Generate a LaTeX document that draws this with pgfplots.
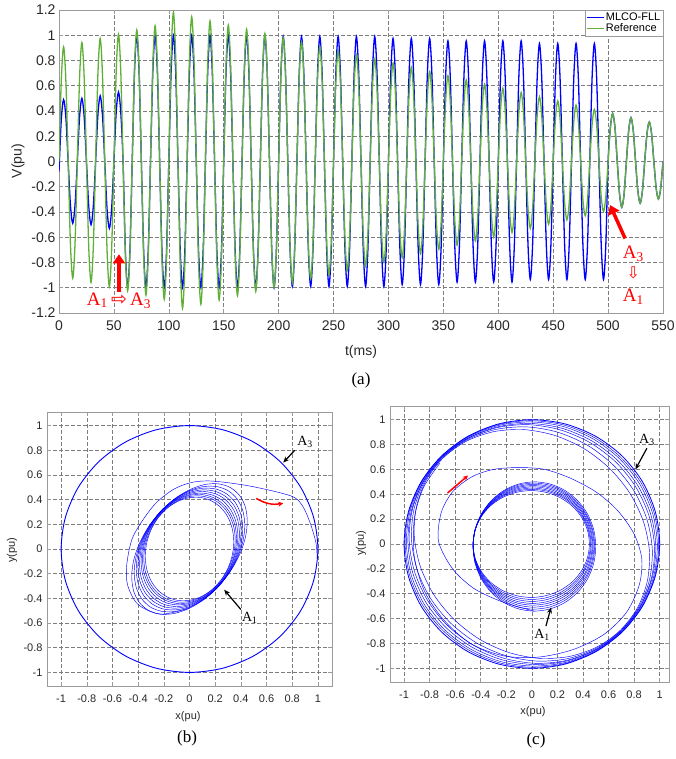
\documentclass[border=0pt]{standalone}
\usepackage{pgfplots}
\pgfplotsset{compat=1.18}
\usepackage{fontspec}
\setmainfont{Liberation Sans}
\newfontfamily\rmlabel{Liberation Serif}
\newfontfamily\symfont{DejaVu Sans}
\usetikzlibrary{arrows.meta}

\definecolor{trackblue}{RGB}{0,0,255}
\definecolor{refgreen}{RGB}{96,176,56}
\definecolor{gridgray}{RGB}{125,125,125}
\definecolor{boxgray}{RGB}{155,155,155}
\definecolor{labelgray}{RGB}{40,40,40}
\definecolor{markred}{RGB}{255,0,0}

\pgfplotsset{
  matlab/.style={
    scale only axis,
    axis line style={boxgray, line width=0.6pt},
    tick style={boxgray, line width=0.5pt},
    tick align=inside,
    major tick length=4pt,
    grid=major,
    major grid style={gridgray, dash pattern=on 3.5pt off 2.5pt, line width=0.5pt},
    tick label style={labelgray},
    /pgf/number format/assume math mode=true,
    /pgf/number format/fixed,
    clip mode=individual,
  },
  orbit/.style={trackblue, line width=0.45pt, smooth cycle},
}

\begin{document}
\begin{tikzpicture}[x=1pt,y=1pt]
\useasboundingbox (0,0) rectangle (676,759);

% ---------------- (a) time-domain tracking ----------------
\begin{axis}[matlab, at={(59pt,446pt)}, anchor=south west,
  width=604pt, height=303pt,
  xmin=0, xmax=550, ymin=-1.2, ymax=1.2,
  xtick={0,50,100,150,200,250,300,350,400,450,500,550},
  ytick={-1.2,-1,-0.8,-0.6,-0.4,-0.2,0,0.2,0.4,0.6,0.8,1,1.2},
  tick label style={font=\fontsize{14}{16}\selectfont},
  xticklabel style={yshift=-4pt},
  legend style={at={(1,1)}, anchor=north east, draw=boxgray, fill=white,
    font=\fontsize{11}{12}\selectfont, inner sep=1pt, row sep=-1pt,
    nodes={inner sep=1.5pt}},
  legend cell align=left,
  legend image code/.code={\draw[#1] (0pt,0pt) -- (17pt,0pt);},
]
\addplot[trackblue, line width=1.3pt, smooth] coordinates {
(0,-0.08) (2.08,.33) (4.17,.49) (6.25,.35)
(8.33,0) (10.42,-.346) (12.5,-.49) (14.58,-.346)
(16.67,0) (18.75,.354) (20.83,.5) (22.92,.354)
(25,0) (27.08,-.354) (29.17,-.5) (31.25,-.354)
(33.33,0) (35.42,.368) (37.5,.52) (39.58,.368)
(41.67,0) (43.75,-.375) (45.83,-.53) (47.92,-.375)
(50,0) (52.08,.389) (54.17,.55) (56.25,.389)
(58.33,0) (60.42,-.707) (62.5,-1) (64.58,-.707)
(66.67,0) (68.75,.707) (70.83,1) (72.92,.707)
(75,0) (77.08,-.707) (79.17,-1) (81.25,-.707)
(83.33,0) (85.42,.707) (87.5,1) (89.58,.707)
(91.67,0) (93.75,-.707) (95.83,-1) (97.92,-.707)
(100,0) (102.08,.707) (104.17,1) (106.25,.707)
(108.33,0) (110.42,-.707) (112.5,-1) (114.58,-.707)
(116.67,0) (118.75,.707) (120.83,1) (122.92,.707)
(125,0) (127.08,-.707) (129.17,-1) (131.25,-.707)
(133.33,0) (135.42,.707) (137.5,1) (139.58,.707)
(141.67,0) (143.75,-.707) (145.83,-1) (147.92,-.707)
(150,0) (152.08,.707) (154.17,1) (156.25,.707)
(158.33,0) (160.42,-.707) (162.5,-1) (164.58,-.707)
(166.67,0) (168.75,.707) (170.83,1) (172.92,.707)
(175,0) (177.08,-.707) (179.17,-1) (181.25,-.707)
(183.33,0) (185.42,.707) (187.5,1) (189.58,.707)
(191.67,0) (193.75,-.707) (195.83,-1) (197.92,-.707)
(200,0) (202.08,.7) (204.17,.99) (206.25,.7)
(208.33,0) (210.42,-.7) (212.5,-.99) (214.58,-.7)
(216.67,0) (218.75,.7) (220.83,.99) (222.92,.7)
(225,0) (227.08,-.7) (229.17,-.99) (231.25,-.7)
(233.33,0) (235.42,.7) (237.5,.99) (239.58,.7)
(241.67,0) (243.75,-.7) (245.83,-.99) (247.92,-.7)
(250,0) (252.08,.7) (254.17,.99) (256.25,.7)
(258.33,0) (260.42,-.7) (262.5,-.99) (264.58,-.7)
(266.67,0) (268.75,.7) (270.83,.99) (272.92,.7)
(275,0) (277.08,-.7) (279.17,-.99) (281.25,-.7)
(283.33,0) (285.42,.7) (287.5,.99) (289.58,.7)
(291.67,0) (293.75,-.7) (295.83,-.99) (297.92,-.7)
(300,0) (302.08,.689) (304.17,.975) (306.25,.689)
(308.33,0) (310.42,-.689) (312.5,-.975) (314.58,-.689)
(316.67,0) (318.75,.689) (320.83,.975) (322.92,.689)
(325,0) (327.08,-.689) (329.17,-.975) (331.25,-.689)
(333.33,0) (335.42,.689) (337.5,.975) (339.58,.689)
(341.67,0) (343.75,-.689) (345.83,-.975) (347.92,-.689)
(350,0) (352.08,.675) (354.17,.955) (356.25,.675)
(358.33,0) (360.42,-.675) (362.5,-.955) (364.58,-.675)
(366.67,0) (368.75,.675) (370.83,.955) (372.92,.675)
(375,0) (377.08,-.675) (379.17,-.955) (381.25,-.675)
(383.33,0) (385.42,.675) (387.5,.955) (389.58,.675)
(391.67,0) (393.75,-.675) (395.83,-.955) (397.92,-.675)
(400,0) (402.08,.675) (404.17,.955) (406.25,.675)
(408.33,0) (410.42,-.675) (412.5,-.955) (414.58,-.675)
(416.67,0) (418.75,.675) (420.83,.955) (422.92,.675)
(425,0) (427.08,-.661) (429.17,-.935) (431.25,-.661)
(433.33,0) (435.42,.661) (437.5,.935) (439.58,.661)
(441.67,0) (443.75,-.661) (445.83,-.935) (447.92,-.661)
(450,0) (452.08,.661) (454.17,.935) (456.25,.661)
(458.33,0) (460.42,-.661) (462.5,-.935) (464.58,-.661)
(466.67,0) (468.75,.661) (470.83,.935) (472.92,.661)
(475,0) (477.08,-.661) (479.17,-.935) (481.25,-.661)
(483.33,0) (485.42,.661) (487.5,.935) (489.58,.661)
(491.67,0) (493.75,-.661) (495.83,-.935) (497.92,-.661)
(500,0) (502.08,.269) (504.17,.38) (506.25,.269)
(508.33,0) (510.42,-.257) (512.5,-.363) (514.58,-.257)
(516.67,0) (518.75,.245) (520.83,.347) (522.92,.245)
(525,0) (527.08,-.233) (529.17,-.33) (531.25,-.233)
(533.33,0) (535.42,.221) (537.5,.313) (539.58,.221)
(541.67,0) (543.75,-.21) (545.83,-.297) (547.92,-.21)
(550,0)
};
\addlegendentry{MLCO-FLL}
\addplot[refgreen, line width=1.3pt, smooth] coordinates {
(0,0) (2.08,.642) (4.17,.908) (6.25,.642)
(8.33,0) (10.42,-.654) (12.5,-.925) (14.58,-.654)
(16.67,0) (18.75,.666) (20.83,.942) (22.92,.666)
(25,0) (27.08,-.677) (29.17,-.958) (31.25,-.677)
(33.33,0) (35.42,.689) (37.5,.975) (39.58,.689)
(41.67,0) (43.75,-.701) (45.83,-.992) (47.92,-.701)
(50,0) (52.08,.713) (54.17,1.008) (56.25,.713)
(58.33,0) (60.42,-.725) (62.5,-1.025) (64.58,-.725)
(66.67,0) (68.75,.737) (70.83,1.042) (72.92,.737)
(75,0) (77.08,-.748) (79.17,-1.058) (81.25,-.748)
(83.33,0) (85.42,.760) (87.5,1.075) (89.58,.760)
(91.67,0) (93.75,-.772) (95.83,-1.092) (97.92,-.772)
(100,0) (102.08,.834) (104.17,1.18) (106.25,.834)
(108.33,0) (110.42,-.822) (112.5,-1.163) (114.58,-.822)
(116.67,0) (118.75,.811) (120.83,1.147) (122.92,.811)
(125,0) (127.08,-.799) (129.17,-1.13) (131.25,-.799)
(133.33,0) (135.42,.787) (137.5,1.113) (139.58,.787)
(141.67,0) (143.75,-.776) (145.83,-1.097) (147.92,-.776)
(150,0) (152.08,.764) (154.17,1.08) (156.25,.764)
(158.33,0) (160.42,-.752) (162.5,-1.063) (164.58,-.752)
(166.67,0) (168.75,.74) (170.83,1.047) (172.92,.74)
(175,0) (177.08,-.728) (179.17,-1.03) (181.25,-.728)
(183.33,0) (185.42,.716) (187.5,1.013) (189.58,.716)
(191.67,0) (193.75,-.705) (195.83,-.997) (197.92,-.705)
(200,0) (202.08,.693) (204.17,.98) (206.25,.693)
(208.33,0) (210.42,-.681) (212.5,-.963) (214.58,-.681)
(216.67,0) (218.75,.67) (220.83,.947) (222.92,.67)
(225,0) (227.08,-.658) (229.17,-.93) (231.25,-.658)
(233.33,0) (235.42,.646) (237.5,.913) (239.58,.646)
(241.67,0) (243.75,-.634) (245.83,-.897) (247.92,-.634)
(250,0) (252.08,.622) (254.17,.88) (256.25,.622)
(258.33,0) (260.42,-.61) (262.5,-.863) (264.58,-.61)
(266.67,0) (268.75,.599) (270.83,.847) (272.92,.599)
(275,0) (277.08,-.587) (279.17,-.83) (281.25,-.587)
(283.33,0) (285.42,.575) (287.5,.813) (289.58,.575)
(291.67,0) (293.75,-.563) (295.83,-.797) (297.92,-.563)
(300,0) (302.08,.551) (304.17,.78) (306.25,.551)
(308.33,0) (310.42,-.539) (312.5,-.763) (314.58,-.539)
(316.67,0) (318.75,.528) (320.83,.747) (322.92,.528)
(325,0) (327.08,-.516) (329.17,-.73) (331.25,-.516)
(333.33,0) (335.42,.504) (337.5,.713) (339.58,.504)
(341.67,0) (343.75,-.493) (345.83,-.697) (347.92,-.493)
(350,0) (352.08,.481) (354.17,.68) (356.25,.481)
(358.33,0) (360.42,-.469) (362.5,-.663) (364.58,-.469)
(366.67,0) (368.75,.457) (370.83,.647) (372.92,.457)
(375,0) (377.08,-.445) (379.17,-.63) (381.25,-.445)
(383.33,0) (385.42,.433) (387.5,.613) (389.58,.433)
(391.67,0) (393.75,-.422) (395.83,-.597) (397.92,-.422)
(400,0) (402.08,.41) (404.17,.58) (406.25,.41)
(408.33,0) (410.42,-.398) (412.5,-.563) (414.58,-.398)
(416.67,0) (418.75,.387) (420.83,.547) (422.92,.387)
(425,0) (427.08,-.375) (429.17,-.53) (431.25,-.375)
(433.33,0) (435.42,.363) (437.5,.513) (439.58,.363)
(441.67,0) (443.75,-.351) (445.83,-.497) (447.92,-.351)
(450,0) (452.08,.339) (454.17,.48) (456.25,.339)
(458.33,0) (460.42,-.327) (462.5,-.463) (464.58,-.327)
(466.67,0) (468.75,.316) (470.83,.447) (472.92,.316)
(475,0) (477.08,-.304) (479.17,-.43) (481.25,-.304)
(483.33,0) (485.42,.292) (487.5,.413) (489.58,.292)
(491.67,0) (493.75,-.281) (495.83,-.397) (497.92,-.281)
(500,0) (502.08,.269) (504.17,.38) (506.25,.269)
(508.33,0) (510.42,-.257) (512.5,-.363) (514.58,-.257)
(516.67,0) (518.75,.245) (520.83,.347) (522.92,.245)
(525,0) (527.08,-.233) (529.17,-.33) (531.25,-.233)
(533.33,0) (535.42,.221) (537.5,.313) (539.58,.221)
(541.67,0) (543.75,-.21) (545.83,-.297) (547.92,-.21)
(550,0)
};
\addlegendentry{Reference}

% mode-change markers
\draw[markred, line width=3.5pt, -{Triangle[length=9pt,width=12pt]}]
  (axis cs:54.6,-1.03) -- (axis cs:54.6,-0.735);
\node[markred, font=\rmlabel\fontsize{19}{20}\selectfont] at (axis cs:54.6,-1.10)
  {A\textsubscript{1}\,{\symfont\fontsize{19}{20}\selectfont ⇨}\,A\textsubscript{3}};
\draw[markred, line width=3.5pt, -{Triangle[length=9pt,width=12pt]}]
  (axis cs:515.5,-0.61) -- (axis cs:501.8,-0.345);
\node[markred, font=\rmlabel\fontsize{19}{20}\selectfont] at (axis cs:523,-0.73) {A\textsubscript{3}};
\node[markred, font=\symfont\fontsize{16}{17}\selectfont] at (axis cs:523,-0.885) {⇩};
\node[markred, font=\rmlabel\fontsize{19}{20}\selectfont] at (axis cs:523,-1.07) {A\textsubscript{1}};
\end{axis}

\node[labelgray, rotate=90, font=\fontsize{14}{16}\selectfont] at (18,598) {V(pu)};
\node[labelgray, font=\fontsize{14}{16}\selectfont] at (361,407) {t(ms)};
\node[font=\rmlabel\fontsize{17}{19}\selectfont] at (361,379) {(a)};

% ---------------- (b) trajectory, A1 to A3 ----------------
\begin{axis}[matlab, at={(47pt,73pt)}, anchor=south west,
  width=285pt, height=274pt,
  xmin=-1.11, xmax=1.11, ymin=-1.11, ymax=1.11,
  xtick={-1,-0.8,-0.6,-0.4,-0.2,0,0.2,0.4,0.6,0.8,1},
  ytick={-1,-0.8,-0.6,-0.4,-0.2,0,0.2,0.4,0.6,0.8,1},
  tick label style={font=\fontsize{11}{13}\selectfont},
  xticklabel style={yshift=-5pt},
  yticklabel style={xshift=-1pt},
]
\addplot[orbit] coordinates {(.345,.058) (.333,.164) (.299,.259) (.244,.336) (.173,.389) (.089,.417) (0,.416) (-.089,.387) (-.173,.331) (-.244,.253) (-.299,.157) (-.333,.051) (-.345,-.058) (-.333,-.164) (-.299,-.259) (-.244,-.336) (-.173,-.389) (-.089,-.417) (0,-.416) (.089,-.387) (.173,-.331) (.244,-.253) (.299,-.157) (.333,-.051)};
\addplot[orbit] coordinates {(.356,.075) (.344,.182) (.308,.277) (.252,.353) (.178,.405) (.092,.429) (0,.425) (-.092,.391) (-.178,.330) (-.252,.247) (-.308,.147) (-.344,.038) (-.356,-.075) (-.344,-.182) (-.308,-.277) (-.252,-.353) (-.178,-.405) (-.092,-.429) (0,-.425) (.092,-.391) (.178,-.330) (.252,-.247) (.308,-.147) (.344,-.038)};
\addplot[orbit] coordinates {(.366,.084) (.354,.194) (.317,.290) (.259,.366) (.183,.418) (.095,.441) (0,.434) (-.095,.397) (-.183,.334) (-.259,.247) (-.317,.144) (-.354,.031) (-.366,-.084) (-.354,-.194) (-.317,-.290) (-.259,-.366) (-.183,-.418) (-.095,-.441) (0,-.434) (.095,-.397) (.183,-.334) (.259,-.247) (.317,-.144) (.354,-.031)};
\addplot[orbit] coordinates {(.377,.102) (.364,.212) (.326,.309) (.267,.384) (.189,.433) (.098,.453) (0,.441) (-.098,.400) (-.189,.331) (-.267,.240) (-.326,.132) (-.364,.016) (-.377,-.102) (-.364,-.212) (-.326,-.309) (-.267,-.384) (-.189,-.433) (-.098,-.453) (0,-.441) (.098,-.400) (.189,-.331) (.267,-.240) (.326,-.132) (.364,-.016)};
\addplot[orbit] coordinates {(.389,.121) (.376,.233) (.337,.329) (.275,.404) (.195,.450) (.101,.466) (0,.450) (-.101,.404) (-.195,.329) (-.275,.233) (-.337,.121) (-.376,0) (-.389,-.121) (-.376,-.233) (-.337,-.329) (-.275,-.404) (-.195,-.450) (-.101,-.466) (0,-.450) (.101,-.404) (.195,-.329) (.275,-.233) (.337,-.121) (.376,0)};
\addplot[orbit] coordinates {(.402,.140) (.388,.254) (.348,.350) (.284,.423) (.201,.467) (.104,.479) (0,.458) (-.104,.406) (-.201,.327) (-.284,.225) (-.348,.108) (-.388,-.017) (-.402,-.140) (-.388,-.254) (-.348,-.350) (-.284,-.423) (-.201,-.467) (-.104,-.479) (0,-.458) (.104,-.406) (.201,-.327) (.284,-.225) (.348,-.108) (.388,.017)};
\addplot[orbit] coordinates {(.415,.161) (.401,.276) (.359,.373) (.293,.444) (.208,.485) (.107,.493) (0,.467) (-.107,.410) (-.208,.324) (-.293,.216) (-.359,.094) (-.401,-.035) (-.415,-.161) (-.401,-.276) (-.359,-.373) (-.293,-.444) (-.208,-.485) (-.107,-.493) (0,-.467) (.107,-.410) (.208,-.324) (.293,-.216) (.359,-.094) (.401,.035)};
\addplot[orbit] coordinates {(.431,.191) (.416,.307) (.373,.402) (.305,.470) (.216,.505) (.112,.506) (0,.473) (-.112,.407) (-.216,.314) (-.305,.199) (-.373,.071) (-.416,-.062) (-.431,-.191) (-.416,-.307) (-.373,-.402) (-.305,-.470) (-.216,-.505) (-.112,-.506) (0,-.473) (.112,-.407) (.216,-.314) (.305,-.199) (.373,-.071) (.416,.062)};
\addplot[orbit] coordinates {(.45,.224) (.435,.341) (.390,.434) (.318,.498) (.225,.528) (.117,.522) (0,.480) (-.117,.406) (-.225,.304) (-.318,.181) (-.390,.046) (-.435,-.092) (-.45,-.224) (-.435,-.341) (-.390,-.434) (-.318,-.498) (-.225,-.528) (-.117,-.522) (0,-.480) (.117,-.406) (.225,-.304) (.318,-.181) (.390,-.046) (.435,.092)};
% departure towards the unit circle
\addplot[trackblue, line width=0.45pt, smooth] coordinates {
(0,-.48) (-.225,-.528) (-.40,-.45) (-.48,-.30) (-.49,-.14) (-.44,.10) (-.285,.345)
(-.13,.48) (.02,.54) (.18,.55) (.47,.51) (.79,.43) (.88,.35) (.94,.21) (.985,.05) (.995,-.08)};
\addplot[trackblue, line width=0.9pt, smooth cycle] coordinates {
(1,0) (.966,.259) (.866,.5) (.707,.707) (.5,.866) (.259,.966) (0,1) (-.259,.966)
(-.5,.866) (-.707,.707) (-.866,.5) (-.966,.259) (-1,0) (-.966,-.259) (-.866,-.5)
(-.707,-.707) (-.5,-.866) (-.259,-.966) (0,-1) (.259,-.966) (.5,-.866) (.707,-.707)
(.866,-.5) (.966,-.259)};

\draw[line width=1.2pt, -{Stealth[length=6pt,width=5pt]}] (axis cs:0.82,0.80) -- (axis cs:0.73,0.70);
\node[font=\rmlabel\fontsize{14}{15}\selectfont] at (axis cs:0.90,0.87) {A\textsubscript{3}};
\draw[line width=1.2pt, -{Stealth[length=6pt,width=5pt]}] (axis cs:0.40,-0.49) -- (axis cs:0.27,-0.33);
\node[font=\rmlabel\fontsize{14}{15}\selectfont] at (axis cs:0.47,-0.56) {A\textsubscript{1}};
\draw[markred, line width=1.5pt, -{Stealth[length=5pt,width=5pt]}] (axis cs:0.52,0.41) to[bend right=20] (axis cs:0.73,0.37);
\end{axis}

\node[labelgray, rotate=90, font=\fontsize{11}{13}\selectfont] at (12,209) {y(pu)};
\node[labelgray, font=\fontsize{11}{13}\selectfont] at (188,42) {x(pu)};
\node[font=\rmlabel\fontsize{17}{19}\selectfont] at (187,21) {(b)};

% ---------------- (c) trajectory, A3 to A1 ----------------
\begin{axis}[matlab, at={(390pt,77pt)}, anchor=south west,
  width=279pt, height=276pt,
  xmin=-1.11, xmax=1.073, ymin=-1.11, ymax=1.11,
  xtick={-1,-0.8,-0.6,-0.4,-0.2,0,0.2,0.4,0.6,0.8,1},
  ytick={-1,-0.8,-0.6,-0.4,-0.2,0,0.2,0.4,0.6,0.8,1},
  tick label style={font=\fontsize{11}{13}\selectfont},
  xticklabel style={yshift=-5pt},
  yticklabel style={xshift=-1pt},
]
% inner ring
\addplot[orbit] coordinates {(.450,0) (.435,.111) (.389,.215) (.317,.304) (.223,.372) (.113,.415) (-.005,.430) (-.123,.415) (-.233,.372) (-.327,.304) (-.399,.215) (-.445,.111) (-.460,0) (-.445,-.111) (-.399,-.215) (-.327,-.304) (-.233,-.372) (-.123,-.415) (-.005,-.430) (.113,-.415) (.223,-.372) (.317,-.304) (.389,-.215) (.435,-.111)};
\addplot[orbit] coordinates {(.458,-.003) (.442,.112) (.396,.219) (.324,.310) (.229,.381) (.118,.425) (-.001,.440) (-.120,.425) (-.231,.381) (-.326,.310) (-.398,.219) (-.444,.112) (-.460,-.003) (-.444,-.118) (-.398,-.225) (-.326,-.316) (-.231,-.387) (-.120,-.431) (-.001,-.446) (.118,-.431) (.229,-.387) (.324,-.316) (.396,-.225) (.442,-.118)};
\addplot[orbit] coordinates {(.464,-.006) (.448,.112) (.402,.222) (.329,.316) (.233,.389) (.122,.434) (.002,.450) (-.118,.434) (-.229,.389) (-.325,.316) (-.398,.222) (-.444,.112) (-.460,-.006) (-.444,-.124) (-.398,-.234) (-.325,-.328) (-.229,-.401) (-.118,-.446) (.002,-.462) (.122,-.446) (.233,-.401) (.329,-.328) (.402,-.234) (.448,-.124)};
\addplot[orbit] coordinates {(.472,-.009) (.456,.112) (.410,.226) (.335,.323) (.239,.397) (.127,.444) (.006,.460) (-.115,.444) (-.227,.397) (-.323,.323) (-.398,.226) (-.444,.112) (-.460,-.009) (-.444,-.130) (-.398,-.244) (-.323,-.341) (-.227,-.415) (-.115,-.462) (.006,-.478) (.127,-.462) (.239,-.415) (.335,-.341) (.410,-.244) (.456,-.130)};
\addplot[orbit] coordinates {(.478,-.011) (.462,.114) (.415,.230) (.341,.329) (.244,.406) (.130,.454) (.009,.470) (-.112,.454) (-.226,.406) (-.323,.329) (-.397,.230) (-.444,.114) (-.460,-.011) (-.444,-.136) (-.397,-.252) (-.323,-.351) (-.226,-.428) (-.112,-.476) (.009,-.492) (.130,-.476) (.244,-.428) (.341,-.351) (.415,-.252) (.462,-.136)};
\addplot[orbit] coordinates {(.486,-.014) (.470,.114) (.423,.233) (.347,.335) (.250,.414) (.136,.463) (.013,.480) (-.110,.463) (-.224,.414) (-.321,.335) (-.397,.233) (-.444,.114) (-.460,-.014) (-.444,-.142) (-.397,-.261) (-.321,-.363) (-.224,-.442) (-.110,-.491) (.013,-.508) (.136,-.491) (.250,-.442) (.347,-.363) (.423,-.261) (.470,-.142)};
\addplot[orbit] coordinates {(.492,-.017) (.476,.114) (.428,.237) (.353,.341) (.254,.422) (.139,.473) (.016,.490) (-.107,.473) (-.222,.422) (-.321,.341) (-.396,.237) (-.444,.114) (-.460,-.017) (-.444,-.148) (-.396,-.271) (-.321,-.375) (-.222,-.456) (-.107,-.507) (.016,-.524) (.139,-.507) (.254,-.456) (.353,-.375) (.428,-.271) (.476,-.148)};
\addplot[orbit] coordinates {(.500,-.020) (.484,.115) (.436,.240) (.359,.348) (.260,.430) (.144,.482) (.020,.500) (-.104,.482) (-.220,.430) (-.319,.348) (-.396,.240) (-.444,.115) (-.460,-.020) (-.444,-.155) (-.396,-.280) (-.319,-.388) (-.220,-.470) (-.104,-.522) (.020,-.540) (.144,-.522) (.260,-.470) (.359,-.388) (.436,-.280) (.484,-.155)};
% transition loop
\addplot[trackblue, line width=0.45pt, smooth] coordinates {
(.02,-.54) (-.22,-.47) (-.45,-.36) (-.62,-.20) (-.73,.02) (-.71,.25) (-.62,.42) (-.47,.54)
(-.30,.60) (-.10,.615) (.10,.60) (.30,.53) (.50,.42) (.67,.27) (.80,.08) (.86,-.12)
(.84,-.33) (.74,-.55) (.56,-.73) (.32,-.85) (.05,-.91) (-.22,-.90) (-.48,-.80) (-.69,-.61)
(-.84,-.38) (-.92,-.10) (-.92,.20) (-.85,.45) (-.72,.65)};
% outer ring
\addplot[orbit] coordinates {(-.693,.693) (-.512,.827) (-.296,.904) (-.060,.920) (.180,.873) (.408,.767) (.608,.608) (.767,.408) (.873,.180) (.920,-.060) (.904,-.296) (.827,-.512) (.693,-.693) (.512,-.827) (.296,-.904) (.060,-.920) (-.180,-.873) (-.408,-.767) (-.608,-.608) (-.767,-.408) (-.873,-.180) (-.920,.060) (-.904,.296) (-.827,.512)};
\addplot[orbit] coordinates {(-.696,.696) (-.508,.837) (-.285,.921) (-.042,.942) (.203,.899) (.434,.795) (.636,.636) (.795,.434) (.899,.203) (.942,-.042) (.921,-.285) (.837,-.508) (.696,-.696) (.508,-.837) (.285,-.921) (.042,-.942) (-.203,-.899) (-.434,-.795) (-.636,-.636) (-.795,-.434) (-.899,-.203) (-.942,.042) (-.921,.285) (-.837,.508)};
\addplot[orbit] coordinates {(-.700,.700) (-.506,.846) (-.277,.935) (-.030,.960) (.219,.919) (.454,.816) (.658,.658) (.816,.454) (.919,.219) (.960,-.030) (.935,-.277) (.846,-.506) (.700,-.700) (.506,-.846) (.277,-.935) (.030,-.960) (-.219,-.919) (-.454,-.816) (-.658,-.658) (-.816,-.454) (-.919,-.219) (-.960,.030) (-.935,.277) (-.846,.506)};
\addplot[orbit] coordinates {(-.700,.700) (-.502,.850) (-.270,.942) (-.020,.970) (.232,.932) (.468,.830) (.672,.672) (.830,.468) (.932,.232) (.970,-.020) (.942,-.270) (.850,-.502) (.700,-.700) (.502,-.850) (.270,-.942) (.020,-.970) (-.232,-.932) (-.468,-.830) (-.672,-.672) (-.830,-.468) (-.932,-.232) (-.970,.020) (-.942,.270) (-.850,.502)};
\addplot[orbit] coordinates {(-.703,.703) (-.502,.857) (-.267,.952) (-.012,.982) (.242,.946) (.480,.845) (.686,.686) (.845,.480) (.946,.242) (.982,-.012) (.952,-.267) (.857,-.502) (.703,-.703) (.502,-.857) (.267,-.952) (.012,-.982) (-.242,-.946) (-.480,-.845) (-.686,-.686) (-.845,-.480) (-.946,-.242) (-.982,.012) (-.952,.267) (-.857,.502)};
\addplot[orbit] coordinates {(-.707,.707) (-.503,.863) (-.264,.960) (-.008,.992) (.250,.957) (.490,.856) (.696,.696) (.856,.490) (.957,.250) (.992,-.008) (.960,-.264) (.863,-.503) (.707,-.707) (.503,-.863) (.264,-.960) (.008,-.992) (-.250,-.957) (-.490,-.856) (-.696,-.696) (-.856,-.490) (-.957,-.250) (-.992,.008) (-.960,.264) (-.863,.503)};
\addplot[trackblue, line width=0.8pt, smooth cycle] coordinates {
(1,0) (.966,.259) (.866,.5) (.707,.707) (.5,.866) (.259,.966) (0,1) (-.259,.966)
(-.5,.866) (-.707,.707) (-.866,.5) (-.966,.259) (-1,0) (-.966,-.259) (-.866,-.5)
(-.707,-.707) (-.5,-.866) (-.259,-.966) (0,-1) (.259,-.966) (.5,-.866) (.707,-.707)
(.866,-.5) (.966,-.259)};

\draw[line width=1.2pt, -{Stealth[length=6pt,width=5pt]}] (axis cs:0.90,0.77) -- (axis cs:0.81,0.60);
\node[font=\rmlabel\fontsize{14}{15}\selectfont] at (axis cs:0.90,0.84) {A\textsubscript{3}};
\draw[line width=1.2pt, -{Stealth[length=6pt,width=5pt]}] (axis cs:0.11,-0.66) -- (axis cs:0.15,-0.51);
\node[font=\rmlabel\fontsize{14}{15}\selectfont] at (axis cs:0.08,-0.73) {A\textsubscript{1}};
\draw[markred, line width=1.5pt, -{Stealth[length=5pt,width=5pt]}] (axis cs:-0.66,0.41) -- (axis cs:-0.50,0.55);
\end{axis}

\node[labelgray, rotate=90, font=\fontsize{11}{13}\selectfont] at (361,216) {y(pu)};
\node[labelgray, font=\fontsize{11}{13}\selectfont] at (533,47) {x(pu)};
\node[font=\rmlabel\fontsize{17}{19}\selectfont] at (536,19) {(c)};
\end{tikzpicture}
\end{document}
